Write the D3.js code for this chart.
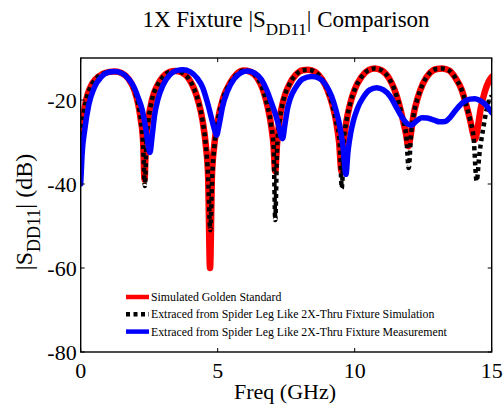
<!DOCTYPE html>
<html>
<head>
<meta charset="utf-8">
<script src="https://cdn.jsdelivr.net/npm/d3@7"></script>
<style>
  body { margin: 0; background: #fff; }
  svg { display: block; font-family: "Liberation Serif", "Times New Roman", serif; }
</style>
</head>
<body>
<svg id="chart" width="504" height="411"></svg>
<script>
// Frequencies (GHz) and |SDD11| (dB)
const goldenFreq = [0, 0.1, 0.2, 0.35, 0.55, 0.8, 1.05, 1.25, 1.5, 1.75, 1.95, 2.1, 2.2, 2.28, 2.33, 2.38, 2.46, 2.6, 2.8, 3.0,
    3.25, 3.45, 3.7, 3.95, 4.15, 4.3, 4.45, 4.57, 4.65, 4.72, 4.79, 4.87, 5.0, 5.2, 5.45, 5.7, 5.95, 6.2, 6.45, 6.65,
    6.82, 6.95, 7.04, 7.1, 7.16, 7.25, 7.4, 7.6, 7.85, 8.1, 8.3, 8.55, 8.8, 9.0, 9.18, 9.32, 9.43, 9.52, 9.6, 9.7,
    9.83, 10.0, 10.25, 10.5, 10.74, 11.0, 11.25, 11.45, 11.62, 11.75, 11.87, 11.96, 12.05, 12.15, 12.3, 12.5, 12.75, 13.0, 13.2, 13.45,
    13.7, 13.9, 14.08, 14.22, 14.32, 14.39, 14.48, 14.6, 14.75, 14.9, 15.0];
const goldenDb = [-32, -24, -20, -17, -15, -13.8, -13.3, -13.2, -13.6, -15, -17.5, -21, -25, -30, -39, -30, -25, -20, -16.5, -14.5,
    -13.3, -13.1, -13.5, -15, -17.5, -20.5, -25, -31, -38, -60, -38, -31, -25, -19.5, -16, -13.8, -13, -13.3, -14.8, -17.5,
    -21.5, -26, -31, -37, -31, -25, -20, -16.5, -14, -12.9, -12.8, -13.3, -15, -17.5, -21, -25, -30, -37, -30, -25,
    -21, -17.5, -14.5, -12.9, -12.5, -13, -14.8, -17.5, -21, -24.5, -28, -31, -28, -23.5, -19.5, -16, -13.5, -12.6, -12.5, -13,
    -15, -17.5, -21.4, -25, -28, -29.4, -27, -22, -18, -15.5, -14.5];

const simFreq = [0, 0.1, 0.2, 0.35, 0.55, 0.8, 1.05, 1.25, 1.5, 1.75, 1.95, 2.1, 2.2, 2.28, 2.34, 2.4, 2.47, 2.6, 2.8, 3.0,
    3.25, 3.45, 3.7, 3.95, 4.15, 4.3, 4.45, 4.57, 4.65, 4.73, 4.8, 4.88, 5.0, 5.2, 5.45, 5.7, 5.95, 6.2, 6.45, 6.65,
    6.82, 6.95, 7.04, 7.1, 7.17, 7.26, 7.4, 7.6, 7.85, 8.1, 8.3, 8.55, 8.8, 9.0, 9.18, 9.32, 9.45, 9.53, 9.6, 9.7,
    9.83, 10.0, 10.25, 10.5, 10.74, 11.0, 11.25, 11.45, 11.62, 11.75, 11.88, 11.97, 12.06, 12.15, 12.3, 12.5, 12.75, 13.0, 13.2, 13.45,
    13.7, 13.9, 14.08, 14.22, 14.34, 14.45, 14.55, 14.7, 14.88, 15.0];
const simDb = [-32, -24, -20, -17, -15, -13.8, -13.3, -13.2, -13.6, -15, -17.5, -21, -25, -31, -40.5, -30, -25, -20, -16.5, -14.5,
    -13.3, -13.1, -13.5, -15, -17.5, -20.5, -25, -31, -38, -51, -38, -31, -25, -19.5, -16, -13.8, -13, -13.3, -14.8, -17.5,
    -21.5, -26, -31, -48.6, -31, -25, -20, -16.5, -14, -12.9, -12.8, -13.3, -15, -17.5, -21, -25, -30, -41, -30, -25,
    -21, -17.5, -14.5, -12.9, -12.5, -13, -14.8, -17.5, -21, -24.5, -28.5, -36.2, -28, -23.5, -19.5, -16, -13.5, -12.6, -12.5, -13,
    -15, -17.5, -21.4, -25, -29, -39.3, -33, -26.4, -20.5, -19];

const measFreq = [0, 0.05, 0.15, 0.3, 0.5, 0.75, 1.0, 1.24, 1.5, 1.75, 1.95, 2.1, 2.25, 2.38, 2.47, 2.53, 2.6, 2.7, 2.82, 3.0,
    3.25, 3.5, 3.73, 4.0, 4.25, 4.45, 4.62, 4.76, 4.88, 4.96, 5.05, 5.18, 5.35, 5.6, 5.85, 6.1, 6.35, 6.6, 6.8, 6.98,
    7.09, 7.22, 7.32, 7.37, 7.45, 7.55, 7.64, 7.85, 8.1, 8.43, 8.7, 8.95, 9.15, 9.32, 9.45, 9.57, 9.68, 9.76, 9.85, 9.95,
    10.1, 10.3, 10.55, 10.8, 11.05, 11.3, 11.5, 11.65, 11.8, 11.95, 12.08, 12.25, 12.45, 12.65, 12.9, 13.1, 13.3, 13.5, 13.7, 13.95,
    14.2, 14.39, 14.6, 14.8, 15.0];
const measDb = [-40, -33, -27, -21, -17, -14.5, -13.4, -13.2, -13.6, -15, -17, -19.5, -22.5, -27, -31, -32.5, -29, -23.5, -19.8, -16.5,
    -14, -13, -12.8, -13.3, -14.8, -17, -20.5, -24, -27, -28.4, -26, -21.5, -18, -15, -13.5, -13.1, -13.6, -15.2, -17.8, -21,
    -23, -26, -28.8, -29.2, -26, -22, -19.8, -17, -15, -14.4, -14.8, -16.5, -19, -22.5, -26, -31, -37.7, -32, -28, -25,
    -22, -19.5, -17.6, -17.1, -17.6, -19.2, -21.5, -23.3, -24.8, -25.8, -26, -25, -24.2, -24.3, -24.8, -25.2, -25.1, -24, -22.3, -20.6,
    -19.8, -19.7, -20.2, -21.3, -23];

const xTicks = [0, 5, 10, 15];
const yTicks = [-80, -60, -40, -20];
const legendLabels = [
    "Simulated Golden Standard",
    "Extraced from Spider Leg Like 2X-Thru Fixture Simulation",
    "Extraced from Spider Leg Like 2X-Thru Fixture Measurement"
];

const svg = d3.select("#chart");
const margin = { left: 80.7, right: 12.3, top: 58, bottom: 59 };
const width = 504 - margin.left - margin.right;
const height = 411 - margin.top - margin.bottom;

const x = d3.scaleLinear().domain([0, 15]).range([0, width]);
const y = d3.scaleLinear().domain([-80, -10]).range([height, 0]);

const g = svg.append("g").attr("transform", `translate(${margin.left},${margin.top})`);

g.append("clipPath").attr("id", "plotClip")
    .append("rect").attr("x", 0).attr("y", -4).attr("width", width).attr("height", height + 4);

const line = d3.line()
    .x(d => x(d[0]))
    .y(d => y(d[1]))
    .curve(d3.curveMonotoneX);

const series = [
    { freq: goldenFreq, db: goldenDb, color: "#ff0000", width: 6.5, dash: null, cap: "round" },
    { freq: simFreq, db: simDb, color: "#000000", width: 4.5, dash: "4,3.5", cap: "butt" },
    { freq: measFreq, db: measDb, color: "#0000ff", width: 5.5, dash: null, cap: "round" }
];

const plot = g.append("g").attr("clip-path", "url(#plotClip)");
series.forEach(s => {
    const pts = s.freq.map((f, i) => [f, s.db[i]]);
    plot.append("path")
        .datum(pts)
        .attr("d", line)
        .attr("fill", "none")
        .attr("stroke", s.color)
        .attr("stroke-width", s.width)
        .attr("stroke-linejoin", "round")
        .attr("stroke-linecap", s.cap)
        .attr("stroke-dasharray", s.dash);
});

// box and inward ticks
g.append("rect")
    .attr("width", width).attr("height", height)
    .attr("fill", "none").attr("stroke", "#000").attr("stroke-width", 1.4);

const tickLen = 4;
xTicks.forEach(t => {
    g.append("line").attr("x1", x(t)).attr("x2", x(t)).attr("y1", height).attr("y2", height - tickLen)
        .attr("stroke", "#000").attr("stroke-width", 1);
    g.append("line").attr("x1", x(t)).attr("x2", x(t)).attr("y1", 0).attr("y2", tickLen)
        .attr("stroke", "#000").attr("stroke-width", 1);
    g.append("text").attr("x", x(t)).attr("y", height + 26)
        .attr("text-anchor", "middle").attr("font-size", 22).text(t);
});
yTicks.forEach(t => {
    g.append("line").attr("x1", 0).attr("x2", tickLen).attr("y1", y(t)).attr("y2", y(t))
        .attr("stroke", "#000").attr("stroke-width", 1);
    g.append("line").attr("x1", width).attr("x2", width - tickLen).attr("y1", y(t)).attr("y2", y(t))
        .attr("stroke", "#000").attr("stroke-width", 1);
    g.append("text").attr("x", -4).attr("y", y(t)).attr("dy", "0.35em")
        .attr("text-anchor", "end").attr("font-size", 22).text(t);
});

// legend
const legend = svg.append("g").attr("transform", "translate(126,297)");
legendLabels.forEach((label, i) => {
    const s = series[i];
    const row = legend.append("g").attr("transform", `translate(0,${i * 17.3})`);
    row.append("line").attr("x1", 0).attr("x2", 23).attr("y1", 0).attr("y2", 0)
        .attr("stroke", s.color).attr("stroke-width", 4.5)
        .attr("stroke-dasharray", s.dash);
    row.append("text").attr("x", 25).attr("y", 0).attr("dy", "0.33em")
        .attr("font-size", 11.8).text(label);
});

// title
const title = svg.append("text").attr("x", 286).attr("y", 27)
    .attr("text-anchor", "middle").attr("font-size", 23);
title.append("tspan").text("1X Fixture |S");
title.append("tspan").attr("font-size", 17).attr("dy", 8).text("DD11");
title.append("tspan").attr("dy", -8).text("| Comparison");

// axis labels
svg.append("text").attr("x", 285).attr("y", 399)
    .attr("text-anchor", "middle").attr("font-size", 22).text("Freq (GHz)");

const ylab = svg.append("text")
    .attr("transform", "translate(32,212) rotate(-90)")
    .attr("text-anchor", "middle").attr("font-size", 24);
ylab.append("tspan").text("|S");
ylab.append("tspan").attr("font-size", 18).attr("dy", 8).text("DD11");
ylab.append("tspan").attr("dy", -8).text("| (dB)");
</script>
</body>
</html>
